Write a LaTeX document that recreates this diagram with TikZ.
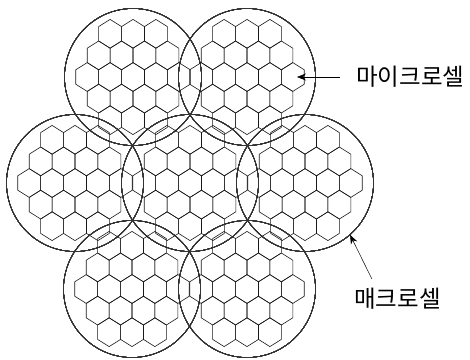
\documentclass[tikz,border=0pt]{standalone}
\usepackage{fontspec}
\newfontfamily\krfont{Noto Sans CJK KR}
\usetikzlibrary{arrows.meta}

\tikzset{
  cell/.style = {line width = .6pt, black!90, line join = round},
  macrocell/.style = {circle, draw, line width = .5pt, black!80,
                      minimum size = 137pt, inner sep = 0pt},
  label/.style = {font = \krfont\fontsize{23.5}{24}\selectfont, inner sep = 2pt},
  pointer/.style = {-{Stealth[length = 9pt, width = 7pt]}, line width = .5pt}
}

\newcommand\hexcell[2]{%
  \draw [cell] ({#1},{#2}) +(0,-14.4) -- +(11.45,-7.2) -- +(11.45,7.2)
    -- +(0,14.4) -- +(-11.45,7.2) -- +(-11.45,-7.2) -- cycle;}

\begin{document}
\begin{tikzpicture}[x = 1pt, y = -1pt]
  \useasboundingbox (0,0) rectangle (470,359);
  \foreach \cx/\cy/\name in {133/77/TL, 247/77/TR, 75/183/L, 190/183/C,
                             305/183/R, 132/289/BL, 247/289/BR} {
    \foreach \row/\n in {-2/3, -1/4, 0/5, 1/4, 2/3}
      \foreach \k in {1,...,\n}
        \hexcell{\cx + (\k - (\n + 1)/2) * 22.9}{\cy + \row * 21.6}
    \node [macrocell] (\name) at (\cx,\cy) {};
  }
  \coordinate (microtip) at (297,77);
  \node [label, anchor = west] (microlabel) at (354,77) {마이크로셀};
  \node [label, anchor = west] (macrolabel) at (352,299) {매크로셀};
  \draw [pointer, shorten < = 14pt] (microlabel.west) -- (microtip);
  \draw [pointer, shorten < = 8pt] ([xshift = -22pt] macrolabel.north) -- (R.-49);
\end{tikzpicture}
\end{document}
